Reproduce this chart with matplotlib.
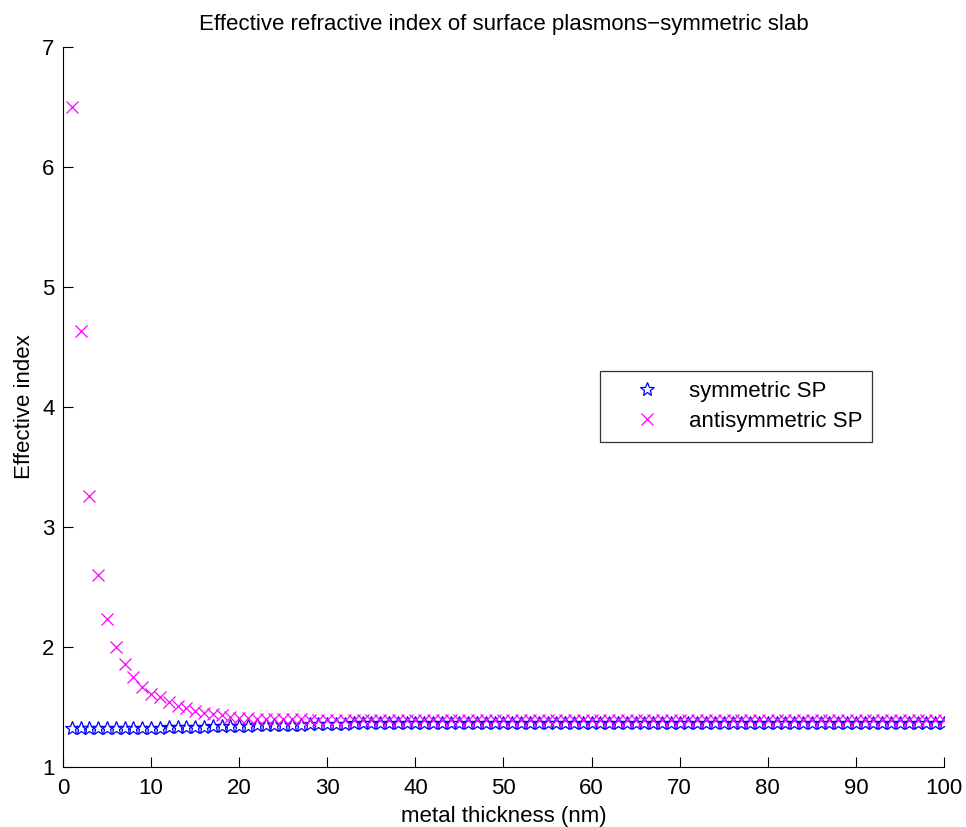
import matplotlib.pyplot as plt

# metal thickness in nm (1..100)
thickness = list(range(1, 101))

# effective index, symmetric SP
sym_index = [1.322, 1.323, 1.323, 1.324, 1.324, 1.325, 1.325, 1.326, 1.326, 1.327,
             1.328, 1.333, 1.334, 1.335, 1.336, 1.337, 1.338, 1.339, 1.340, 1.341,
             1.342, 1.348, 1.349, 1.350, 1.351, 1.352, 1.353, 1.354, 1.355, 1.356,
             1.357, 1.362, 1.363, 1.364, 1.364, 1.365, 1.365, 1.366, 1.366, 1.367,
             1.367, 1.367, 1.368, 1.368, 1.368, 1.368, 1.369, 1.369, 1.369, 1.369,
             1.369, 1.370, 1.370, 1.370, 1.370, 1.370, 1.370, 1.370, 1.370, 1.370,
             1.370, 1.370, 1.370, 1.370, 1.370, 1.370, 1.370, 1.370, 1.370, 1.370,
             1.370, 1.370, 1.370, 1.370, 1.370, 1.370, 1.370, 1.370, 1.370, 1.370,
             1.370, 1.370, 1.370, 1.370, 1.370, 1.370, 1.370, 1.370, 1.370, 1.370,
             1.370, 1.370, 1.370, 1.370, 1.370, 1.370, 1.370, 1.370, 1.370, 1.370]

# effective index, antisymmetric SP
anti_index = [6.50, 4.63, 3.26, 2.60, 2.23, 2.00, 1.86, 1.75, 1.67, 1.61,
              1.58, 1.54, 1.51, 1.49, 1.47, 1.45, 1.44, 1.43, 1.42, 1.41,
              1.405, 1.402, 1.400, 1.398, 1.397, 1.396, 1.396, 1.395, 1.395, 1.394,
              1.394, 1.394, 1.393, 1.393, 1.393, 1.392, 1.392, 1.392, 1.392, 1.391,
              1.391, 1.391, 1.391, 1.391, 1.391, 1.390, 1.390, 1.390, 1.390, 1.390,
              1.390, 1.390, 1.390, 1.390, 1.390, 1.390, 1.390, 1.390, 1.390, 1.390,
              1.390, 1.390, 1.390, 1.390, 1.390, 1.390, 1.390, 1.390, 1.390, 1.390,
              1.390, 1.390, 1.390, 1.390, 1.390, 1.390, 1.390, 1.390, 1.390, 1.390,
              1.390, 1.390, 1.390, 1.390, 1.390, 1.390, 1.390, 1.390, 1.390, 1.390,
              1.390, 1.390, 1.390, 1.390, 1.390, 1.390, 1.390, 1.390, 1.390, 1.390]

plt.rcParams['font.family'] = ['Liberation Sans', 'DejaVu Sans']
fs = 16

fig = plt.figure(figsize=(9.66, 8.27), dpi=100)
ax = fig.add_axes([0.0652, 0.0726, 0.912, 0.8706])

ax.plot(thickness, sym_index, linestyle='none', marker='*', markersize=10,
        markerfacecolor='none', markeredgecolor='#0000ff', markeredgewidth=0.9,
        label='symmetric SP')
ax.plot(thickness, anti_index, linestyle='none', marker='x', markersize=8,
        color='#ff00ff', markeredgewidth=0.9, label='antisymmetric SP')

ax.set_xlim(0, 100)
ax.set_ylim(1, 7)
ax.set_xticks(range(0, 101, 10))
ax.set_yticks(range(1, 8))
ax.spines['top'].set_visible(False)
ax.spines['right'].set_visible(False)
ax.tick_params(direction='in', length=7, labelsize=fs)
ax.tick_params(axis='x', pad=8)
ax.tick_params(axis='y', pad=6)

ax.set_xlabel('metal thickness (nm)', fontsize=fs, labelpad=5)
ax.set_ylabel('Effective index', fontsize=fs, labelpad=5)
ax.set_title('Effective refractive index of surface plasmons\u2212symmetric slab',
             fontsize=fs, pad=12)

leg = ax.legend(loc='upper left', bbox_to_anchor=(0.6095, 0.55), fontsize=fs,
                frameon=True, fancybox=False, edgecolor='black',
                borderaxespad=0, handlelength=3.3, handletextpad=0.25,
                borderpad=0.45, labelspacing=0.4)
leg.get_frame().set_linewidth(0.9)

fig.savefig('out.png', dpi=100)
